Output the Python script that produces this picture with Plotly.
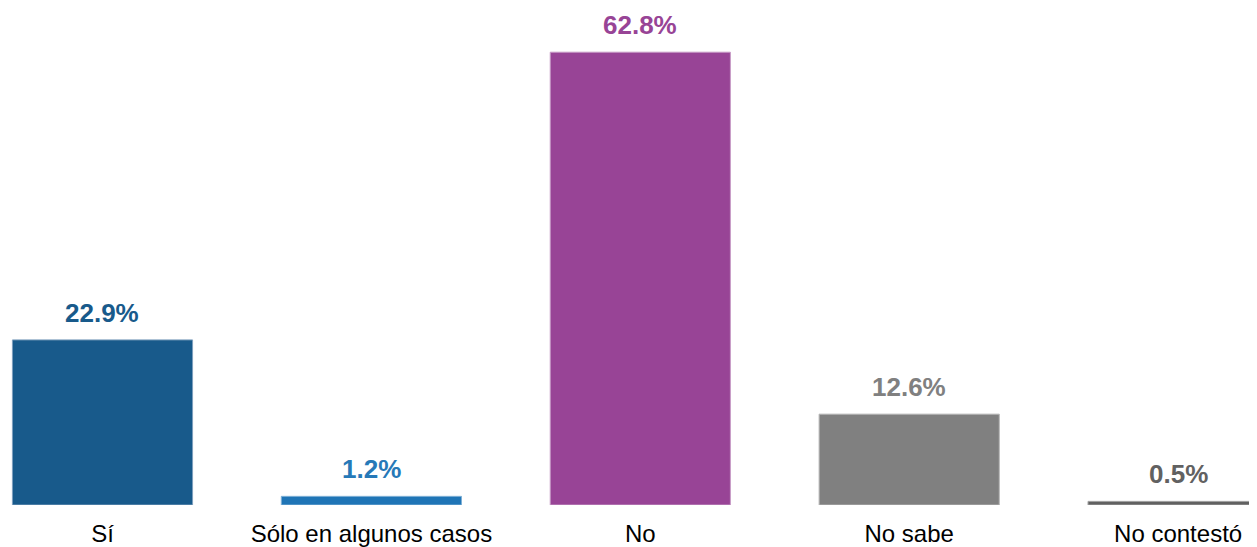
import plotly.graph_objects as go

categories = ["Sí", "Sólo en algunos casos", "No", "No sabe", "No contestó"]
values = [22.9, 1.2, 62.8, 12.6, 0.5]
labels = ["22.9%", "1.2%", "62.8%", "12.6%", "0.5%"]
bar_colors = ["#185a8b", "#1f75b6", "#984496", "#808080", "#616161"]
text_colors = ["#185a8b", "#2679b8", "#984496", "#808080", "#616161"]
edge_colors = ["#7d9fbd", "#7fb0d6", "#c79ac6", "#b5b5b5", "#a0a0a0"]

fig = go.Figure()
fig.add_trace(go.Bar(
    x=list(range(len(categories))),
    y=values,
    width=0.67,
    marker=dict(color=bar_colors, line=dict(color=edge_colors, width=1)),
    hoverinfo="skip",
))

for i, (v, t, c) in enumerate(zip(values, labels, text_colors)):
    fig.add_annotation(
        x=i, y=v, text=f"<b>{t}</b>", showarrow=False,
        yanchor="bottom", yshift=10,
        font=dict(family="Liberation Sans, Arial, sans-serif", size=26, color=c),
    )

fig.update_layout(
    width=1249, height=539,
    margin=dict(l=0, r=0, t=0, b=42, autoexpand=False),
    plot_bgcolor="white", paper_bgcolor="white",
    showlegend=False,
    xaxis=dict(
        range=[-0.3514, 4.2934],
        tickmode="array",
        tickvals=list(range(len(categories))),
        ticktext=categories,
        showgrid=False, zeroline=False, showline=False,
        ticks="",
        tickfont=dict(family="Liberation Sans, Arial, sans-serif", size=24, color="#000000"),
        automargin=False,
        ticklabelstandoff=12,
    ),
    yaxis=dict(
        range=[0, 68.93],
        visible=False,
        showgrid=False, zeroline=False,
    ),
)

fig.write_html("out.html")
